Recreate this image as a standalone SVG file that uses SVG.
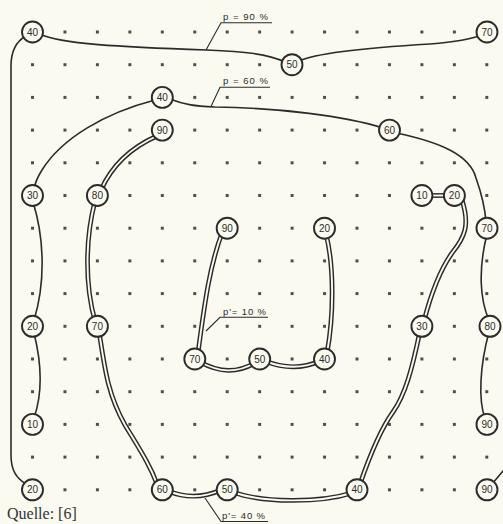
<svg xmlns="http://www.w3.org/2000/svg" xmlns:xlink="http://www.w3.org/1999/xlink" width="503" height="524" viewBox="0 0 503 524">
<style>
.s{fill:none;stroke:#2b2b2b;stroke-width:1.6;stroke-linecap:round}
.o{fill:none;stroke:#2b2b2b;stroke-width:4.8}
.i{fill:none;stroke:#fafaf0;stroke-width:1.9}
.ld{fill:none;stroke:#2b2b2b;stroke-width:1.1}
.nd circle{fill:#fafaf0;stroke:#2b2b2b;stroke-width:1.9}
.nd text{font-family:"Liberation Sans",Arial,sans-serif;font-size:10px;fill:#2b2b2b;text-anchor:middle}
.lb{font-family:"Liberation Sans",Arial,sans-serif;font-size:9.5px;fill:#2b2b2b}
</style>
<defs>
<pattern id="grid" patternUnits="userSpaceOnUse" x="16.275" y="15.65" width="32.45" height="32.7">
<rect x="14.725" y="14.85" width="3" height="3" fill="#4d4d4d"/>
</pattern>
<path id="d1" d="M157,136 C130,148 112,165 101,190"/>
<path id="d2" d="M95,201 C85,240 85,285 95,321"/>
<path id="d3" d="M99,331 C105,370 108,395 125,425 C140,450 150,465 157,484"/>
<path id="d4" d="M168,491 C185,498 203,498 221,490"/>
<path id="d5" d="M233,492 C262,503 320,503 352,493"/>
<path id="d6" d="M360,484 C370,455 380,430 393,412 C405,395 412,370 420,331"/>
<path id="d7" d="M424,321 C432,290 440,270 452,253 C465,237 470,225 462,200"/>
<path id="d8" d="M430,195.5 H446"/>
<path id="d9" d="M222,233 C210,265 205,300 198,353"/>
<path id="d10" d="M200,362 C220,373 237,373 255,363"/>
<path id="d11" d="M265,361 C285,369 302,369 320,361"/>
<path id="d12" d="M327,353 C334,315 334,265 326,234"/>
</defs>
<rect width="503" height="524" fill="#fafaf0"/>
<rect id="dots" x="16.275" y="15.65" width="486.75" height="490.5" fill="url(#grid)"/>
<g id="connectors">
<path class="s" d="M26,484 C16,478 11,470 11,455 L11,66 C11,52 15,42 26,36"/>
<path class="s" d="M40,34 C60,44 120,47 207,50 C245,51.5 268,54 285,62"/>
<path class="s" d="M299,61 C318,52 380,47 430,44 C455,42 470,40 481,35"/>
<path class="s" d="M170,99 C185,105 195,106 215,107 C280,108 345,116 383,128"/>
<path class="s" d="M396,133 C440,142 470,155 476,178 C482,195 485,208 486,222"/>
<path class="s" d="M487,234 C478,270 480,300 489,320"/>
<path class="s" d="M489,332 C480,365 478,400 485,418"/>
<path class="s" d="M155,100 C105,113 62,138 42,170 C37,178 35,183 34,189"/>
<path class="s" d="M33,202 C45,240 45,285 34,320"/>
<path class="s" d="M34,333 C42,365 42,395 34,418"/>
<path class="s" d="M492,484 L503,471"/>
<use xlink:href="#d1" class="o"/><use xlink:href="#d1" class="i"/>
<use xlink:href="#d2" class="o"/><use xlink:href="#d2" class="i"/>
<use xlink:href="#d3" class="o"/><use xlink:href="#d3" class="i"/>
<use xlink:href="#d4" class="o"/><use xlink:href="#d4" class="i"/>
<use xlink:href="#d5" class="o"/><use xlink:href="#d5" class="i"/>
<use xlink:href="#d6" class="o"/><use xlink:href="#d6" class="i"/>
<use xlink:href="#d7" class="o"/><use xlink:href="#d7" class="i"/>
<use xlink:href="#d8" class="o"/><use xlink:href="#d8" class="i"/>
<use xlink:href="#d9" class="o"/><use xlink:href="#d9" class="i"/>
<use xlink:href="#d10" class="o"/><use xlink:href="#d10" class="i"/>
<use xlink:href="#d11" class="o"/><use xlink:href="#d11" class="i"/>
<use xlink:href="#d12" class="o"/><use xlink:href="#d12" class="i"/>
<path class="ld" d="M206,50 L221,22.7 H272"/>
<path class="ld" d="M211,106.5 L220,87.3 H270"/>
<path class="ld" d="M206,331 L220,317.3 H268"/>
<path class="ld" d="M205,498 L221,521.5 H268"/>
</g>
<g id="labels">
<text class="lb" x="223" y="19.5" textLength="45" lengthAdjust="spacing">p = 90 %</text>
<text class="lb" x="223" y="84" textLength="45" lengthAdjust="spacing">p = 60 %</text>
<text class="lb" x="223" y="314.5" textLength="43" lengthAdjust="spacing">p'= 10 %</text>
<text class="lb" x="222" y="518.5" textLength="43" lengthAdjust="spacing">p'= 40 %</text>
<text x="7" y="519" style="font-family:'Liberation Serif','Times New Roman',serif;font-size:16px;fill:#333">Quelle: [6]</text>
</g>
<g class="nd">
<g id="n1"><circle cx="32.5" cy="32" r="10.5"/><text x="32.5" y="35.6">40</text></g>
<g id="n2"><circle cx="487" cy="32" r="10.5"/><text x="487" y="35.6">70</text></g>
<g id="n3"><circle cx="292" cy="64.7" r="10.5"/><text x="292" y="68.3">50</text></g>
<g id="n4"><circle cx="162.3" cy="97.4" r="10.5"/><text x="162.3" y="101">40</text></g>
<g id="n5"><circle cx="162.3" cy="130.1" r="10.5"/><text x="162.3" y="133.7">90</text></g>
<g id="n6"><circle cx="389.5" cy="130.1" r="10.5"/><text x="389.5" y="133.7">60</text></g>
<g id="n7"><circle cx="32.5" cy="195.5" r="10.5"/><text x="32.5" y="199.1">30</text></g>
<g id="n8"><circle cx="97.4" cy="195.5" r="10.5"/><text x="97.4" y="199.1">80</text></g>
<g id="n9"><circle cx="421.9" cy="195.5" r="10.5"/><text x="421.9" y="199.1">10</text></g>
<g id="n10"><circle cx="454.4" cy="195.5" r="10.5"/><text x="454.4" y="199.1">20</text></g>
<g id="n11"><circle cx="227.2" cy="228.2" r="10.5"/><text x="227.2" y="231.8">90</text></g>
<g id="n12"><circle cx="324.5" cy="228.2" r="10.5"/><text x="324.5" y="231.8">20</text></g>
<g id="n13"><circle cx="487" cy="228.2" r="10.5"/><text x="487" y="231.8">70</text></g>
<g id="n14"><circle cx="32.5" cy="326.3" r="10.5"/><text x="32.5" y="329.9">20</text></g>
<g id="n15"><circle cx="97.4" cy="326.3" r="10.5"/><text x="97.4" y="329.9">70</text></g>
<g id="n16"><circle cx="421.9" cy="326.3" r="10.5"/><text x="421.9" y="329.9">30</text></g>
<g id="n17"><circle cx="490" cy="326.3" r="10.5"/><text x="490" y="329.9">80</text></g>
<g id="n18"><circle cx="194.8" cy="359" r="10.5"/><text x="194.8" y="362.6">70</text></g>
<g id="n19"><circle cx="259.7" cy="359" r="10.5"/><text x="259.7" y="362.6">50</text></g>
<g id="n20"><circle cx="324.5" cy="359" r="10.5"/><text x="324.5" y="362.6">40</text></g>
<g id="n21"><circle cx="32.5" cy="424.4" r="10.5"/><text x="32.5" y="428">10</text></g>
<g id="n22"><circle cx="487" cy="424.4" r="10.5"/><text x="487" y="428">90</text></g>
<g id="n23"><circle cx="32.5" cy="489.8" r="10.5"/><text x="32.5" y="493.4">20</text></g>
<g id="n24"><circle cx="162.3" cy="489.8" r="10.5"/><text x="162.3" y="493.4">60</text></g>
<g id="n25"><circle cx="227.2" cy="489.8" r="10.5"/><text x="227.2" y="493.4">50</text></g>
<g id="n26"><circle cx="357" cy="489.8" r="10.5"/><text x="357" y="493.4">40</text></g>
<g id="n27"><circle cx="487" cy="489.8" r="10.5"/><text x="487" y="493.4">90</text></g>
</g>
</svg>
